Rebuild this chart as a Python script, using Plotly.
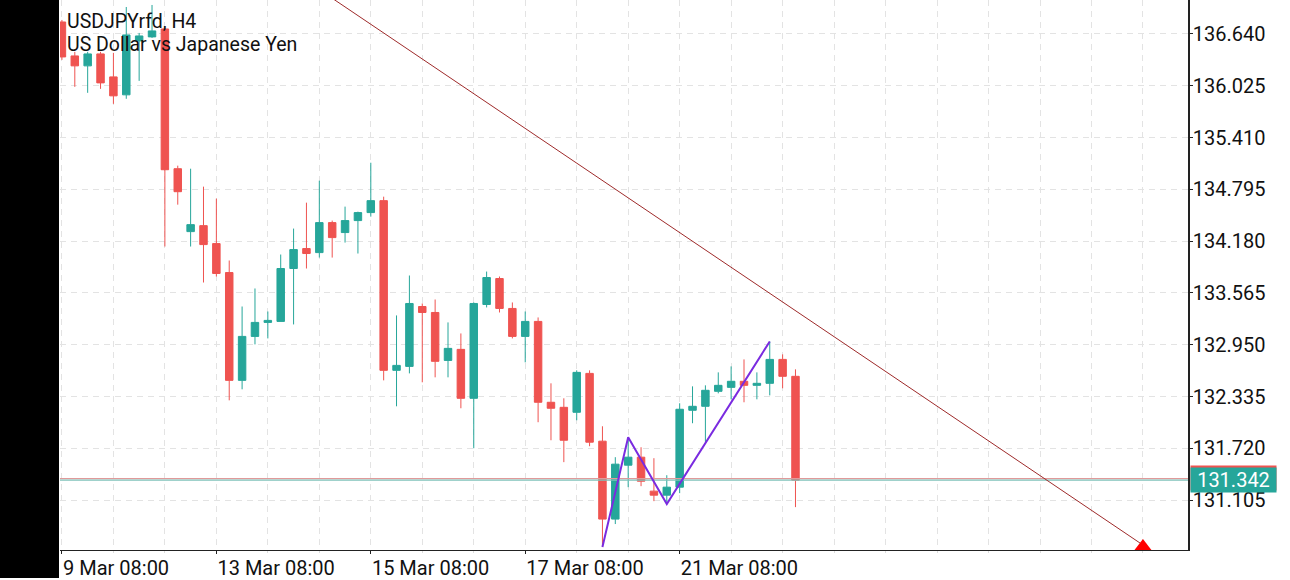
import plotly.graph_objects as go

# ---- data ----
candle_idx = list(range(58))
open_ = [136.782, 136.379, 136.261, 136.403, 136.130, 135.917, 136.557, 136.605, 136.699, 135.040,
         134.293, 134.364, 134.151, 133.807, 132.527, 133.049, 133.215, 133.227, 133.855, 134.092,
         134.044, 134.400, 134.282, 134.424, 134.519, 134.661, 132.646, 132.693, 133.404, 133.333,
         132.764, 132.895, 132.314, 133.428, 133.736, 133.381, 133.049, 133.227, 132.267, 132.207,
         132.148, 132.610, 131.805, 130.880, 131.520, 131.615, 131.212, 131.164, 131.259, 132.172,
         132.219, 132.397, 132.444, 132.516, 132.468, 132.492, 132.776, 132.575]
high = [136.806, 136.427, 136.427, 136.427, 136.415, 136.960, 136.652, 136.984, 136.711, 135.076,
        135.040, 134.827, 134.685, 133.950, 133.404, 133.618, 133.345, 134.021, 134.329, 134.637,
        134.898, 134.424, 134.590, 134.530, 135.111, 134.708, 133.298, 133.772, 133.440, 133.487,
        133.215, 133.084, 133.452, 133.819, 133.760, 133.452, 133.345, 133.274, 132.492, 132.314,
        132.646, 132.646, 131.982, 131.615, 131.852, 131.733, 131.603, 131.401, 132.255, 132.456,
        132.468, 132.622, 132.693, 132.776, 132.622, 132.989, 132.836, 132.658]
low = [136.332, 136.012, 135.941, 135.988, 135.810, 135.870, 136.083, 136.593, 134.116, 134.613,
       134.116, 133.689, 133.760, 132.290, 132.421, 132.954, 133.025, 133.227, 133.191, 133.855,
       133.985, 133.985, 134.163, 134.033, 134.471, 132.527, 132.219, 132.610, 132.504, 132.563,
       132.563, 132.196, 131.721, 133.393, 133.333, 133.025, 132.741, 132.030, 131.816, 131.556,
       132.053, 131.745, 130.548, 130.821, 131.259, 131.271, 131.093, 131.058, 131.188, 132.018,
       131.793, 132.373, 132.302, 132.267, 132.302, 132.349, 132.433, 131.022]
close = [136.367, 136.261, 136.403, 136.059, 135.905, 136.628, 136.616, 136.676, 135.028, 134.767,
         134.376, 134.139, 133.796, 132.527, 133.049, 133.215, 133.239, 133.855, 134.080, 134.033,
         134.400, 134.222, 134.424, 134.519, 134.661, 132.646, 132.705, 133.440, 133.333, 132.753,
         132.907, 132.314, 133.440, 133.748, 133.381, 133.049, 133.227, 132.267, 132.196, 131.816,
         132.622, 131.793, 130.880, 131.532, 131.615, 131.330, 131.164, 131.259, 132.184, 132.219,
         132.409, 132.468, 132.516, 132.468, 132.492, 132.776, 132.575, 131.342]

x_tick_idx = [0, 12, 24, 36, 48]
x_tick_text = ["9 Mar 08:00", "13 Mar 08:00", "15 Mar 08:00", "17 Mar 08:00", "21 Mar 08:00"]
price_ticks = [136.640, 136.025, 135.410, 134.795, 134.180, 133.565, 132.950, 132.335, 131.720, 131.105]

zigzag_idx = [42, 44, 47, 55]
zigzag_price = [130.548, 131.852, 131.058, 132.989]

trend_idx = [20, 88]
trend_price = [137.167, 130.160]

arrow_idx = [84]
arrow_price = [130.554]

bid_price = 131.342
ask_price = 131.360

title_line1 = "USDJPYrfd, H4"
title_line2 = "US Dollar vs Japanese Yen"

# ---- styling ----
GREEN = "#26a69a"
RED = "#ef5350"
GRID = "#e3e3e3"
FONT = "Roboto"

fig = go.Figure()

fig.add_trace(go.Candlestick(
    x=candle_idx, open=open_, high=high, low=low, close=close,
    increasing=dict(line=dict(color=GREEN, width=1), fillcolor=GREEN),
    decreasing=dict(line=dict(color=RED, width=1), fillcolor=RED),
    whiskerwidth=0, showlegend=False, hoverinfo="skip",
))

# bid / ask lines
fig.add_trace(go.Scatter(x=[-1, 90], y=[ask_price, ask_price], mode="lines",
                         line=dict(color="#e09a9a", width=1.2), showlegend=False, hoverinfo="skip"))
fig.add_trace(go.Scatter(x=[-1, 90], y=[bid_price, bid_price], mode="lines",
                         line=dict(color="#7fc2ba", width=1.2), showlegend=False, hoverinfo="skip"))

# trend line
fig.add_trace(go.Scatter(x=trend_idx, y=trend_price, mode="lines",
                         line=dict(color="#9e2a2a", width=1), showlegend=False, hoverinfo="skip"))

# zigzag
fig.add_trace(go.Scatter(x=zigzag_idx, y=zigzag_price, mode="lines",
                         line=dict(color="#7a2be0", width=2), showlegend=False, hoverinfo="skip"))

# arrow
fig.add_trace(go.Scatter(x=arrow_idx, y=arrow_price, mode="markers",
                         marker=dict(symbol="triangle-up", size=15, color="#ff0000"),
                         cliponaxis=False, showlegend=False, hoverinfo="skip"))

W, H = 1290, 580
ml, mr, mt, mb = 60, 102, 0, 28
pw, ph = W - ml - mr, H - mt - mb

fig.update_layout(
    width=W, height=H, autosize=False,
    margin=dict(l=ml, r=mr, t=mt, b=mb, pad=0),
    paper_bgcolor="white", plot_bgcolor="white",
    boxgap=0.17, boxgroupgap=0.3,
    font=dict(family=FONT, size=20, color="#111111"),
    showlegend=False,
    xaxis=dict(
        range=[-0.15, 87.5], rangeslider=dict(visible=False),
        tickmode="array", tickvals=x_tick_idx, ticktext=x_tick_text,
        ticklabelposition="outside right",
        showgrid=True, gridcolor=GRID, griddash="6px,5px", gridwidth=1,
        minor=dict(tickmode="linear", tick0=0, dtick=4, showgrid=True, gridcolor=GRID,
                   griddash="6px,5px", ticks="outside", ticklen=2, tickcolor="#dddddd"),
        showline=True, linecolor="#222222", linewidth=1.2,
        ticks="outside", ticklen=3, tickcolor="#222222",
        tickfont=dict(family=FONT, size=20, color="#111111"),
        zeroline=False, fixedrange=True,
    ),
    yaxis=dict(
        side="right", range=[130.513, 137.043],
        tickmode="array", tickvals=price_ticks, tickformat=".3f",
        showgrid=True, gridcolor=GRID, griddash="6px,5px", gridwidth=1,
        showline=True, linecolor="#222222", linewidth=1.5,
        ticks="outside", ticklen=3, tickcolor="#222222",
        ticklabelstandoff=-4,
        tickfont=dict(family=FONT, size=20, color="#111111"),
        zeroline=False, fixedrange=True,
    ),
)

# black strip at the left edge
fig.add_shape(type="rect", xref="paper", yref="paper",
              x0=-ml / pw, x1=-1 / pw, y0=-mb / ph, y1=1.0,
              fillcolor="black", line=dict(width=0), layer="above")

# title lines
fig.add_annotation(xref="paper", yref="paper", x=5 / pw, y=1 - 22 / ph,
                   xanchor="left", yanchor="middle", text=title_line1, showarrow=False,
                   font=dict(family=FONT, size=19.5, color="#111111"))
fig.add_annotation(xref="paper", yref="paper", x=5 / pw, y=1 - 45 / ph,
                   xanchor="left", yanchor="middle", text=title_line2, showarrow=False,
                   font=dict(family=FONT, size=19.5, color="#111111"))

# price labels (ask strip behind, bid label on top)
fig.add_annotation(xref="paper", yref="y", x=1, xshift=2, y=ask_price + 0.008,
                   xanchor="left", yanchor="middle", text=f"{bid_price:.3f}", showarrow=False,
                   width=83, height=22, borderpad=1, bgcolor=RED,
                   font=dict(family=FONT, size=20, color=RED))
fig.add_annotation(xref="paper", yref="y", x=1, xshift=2, y=bid_price,
                   xanchor="left", yanchor="middle", text=f"{bid_price:.3f}", showarrow=False,
                   width=83, height=22, borderpad=1, bgcolor=GREEN,
                   font=dict(family=FONT, size=20, color="white"))

fig.write_html("out.html")
